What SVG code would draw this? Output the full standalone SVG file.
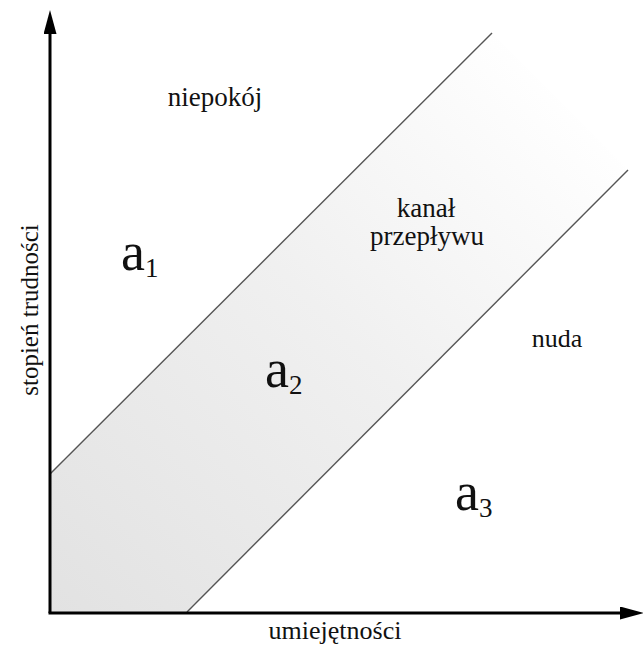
<svg xmlns="http://www.w3.org/2000/svg" width="643" height="648" viewBox="0 0 643 648">
<style>
text{font-family:'Liberation Serif','Times New Roman',serif;fill:#111}
.lbl{font-size:26px}
.big{font-size:54px}
.sub{font-size:27px}
.band{stroke:#555;stroke-width:1.4;fill:none}
.axis{stroke:#000;stroke-width:3;fill:none}
</style>
<defs>
<linearGradient id="g" gradientUnits="userSpaceOnUse" x1="50" y1="612" x2="570" y2="92">
<stop offset="0" stop-color="#e2e2e2"/>
<stop offset="0.55" stop-color="#f0f0f0"/>
<stop offset="1" stop-color="#ffffff"/>
</linearGradient>
<marker id="arr" viewBox="0 0 24 13" refX="0" refY="6.5" markerWidth="24" markerHeight="13" markerUnits="userSpaceOnUse" orient="auto">
<path d="M0,0 L24,6.5 L0,13 Z" fill="#000"/>
</marker>
</defs>
<g id="channel">
<polygon points="50,474 492,33 628,170 187,612 50,612" fill="url(#g)"/>
<line class="band" x1="50" y1="474" x2="492" y2="33"/>
<line class="band" x1="187" y1="612" x2="628" y2="170"/>
</g>
<g id="connectors">
<line class="axis" x1="50" y1="613" x2="50" y2="34" marker-end="url(#arr)"/>
<line class="axis" x1="48.5" y1="613" x2="620" y2="613" marker-end="url(#arr)"/>
</g>
<g id="y-label"><text class="lbl" transform="translate(38,310) rotate(-90)" text-anchor="middle" style="font-size:25px">stopień trudności</text></g>
<g id="x-label"><text class="lbl" x="335" y="639" text-anchor="middle">umiejętności</text></g>
<g id="niepokoj"><text class="lbl" x="215" y="106" text-anchor="middle" style="font-size:27px">niepokój</text></g>
<g id="kanal"><text class="lbl" x="426" y="217" text-anchor="middle" style="font-size:27px">kanał</text><text class="lbl" x="427" y="245" text-anchor="middle" style="font-size:27px">przepływu</text></g>
<g id="nuda"><text class="lbl" x="557" y="347" text-anchor="middle">nuda</text></g>
<g id="a1"><text class="big" x="121" y="270">a<tspan class="sub" dy="7">1</tspan></text></g>
<g id="a2"><text class="big" x="265" y="387">a<tspan class="sub" dy="7">2</tspan></text></g>
<g id="a3"><text class="big" x="455" y="510">a<tspan class="sub" dy="7">3</tspan></text></g>
</svg>
